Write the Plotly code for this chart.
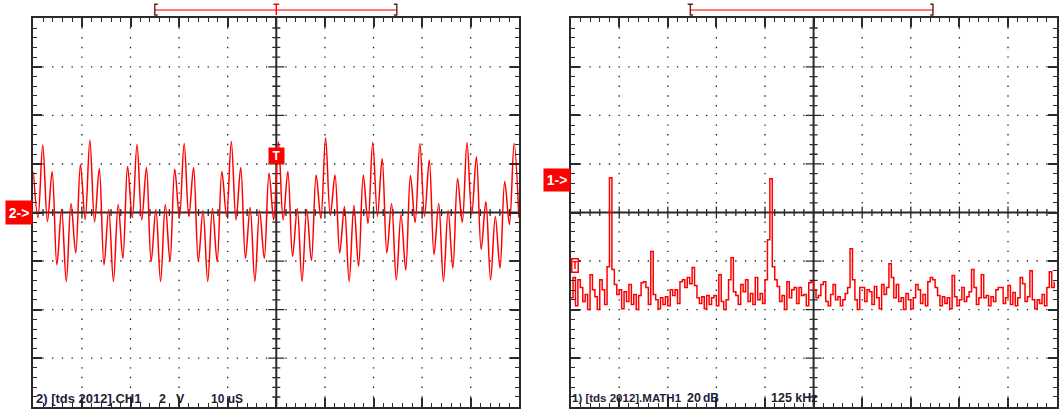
import plotly.graph_objects as go

# ------------------------------------------------------------------ data
# CH1 time trace: successive extremes of the waveform (volts), read from the screen
ch1_volts = [
    1.69, -0.21, 2.78, -0.37, 1.69, -2.16, 0.12, -2.84, 0.37, -1.67,
    1.98, -0.29, 2.98, -0.39, 1.81, -2.16, 0.12, -2.84, 0.33, -1.89,
    1.89, -0.21, 2.80, -0.31, 1.85, -2.02, 0.12, -2.84, 0.33, -2.02,
    1.79, -0.21, 2.84, -0.16, 1.85, -2.02, 0.08, -2.84, 0.16, -2.02,
    1.69, -0.16, 2.92, -0.31, 1.85, -1.89, 0.21, -2.84, 0.08, -1.89,
    1.63, -0.31, 2.91, -0.31, 1.69, -1.81, 0.16, -2.84, 0.12, -1.98,
    1.54, -0.25, 3.08, -0.12, 1.54, -1.67, 0.25, -2.84, 0.29, -2.22,
    1.54, -0.45, 2.88, -0.16, 2.22, -1.67, 0.37, -2.78, -0.08, -2.37,
    1.52, -0.41, 2.84, -0.16, 2.16, -1.73, 0.37, -2.84, 0.08, -2.30,
    1.40, -0.41, 2.88, -0.08, 2.30, -1.52, 0.45, -2.78, -0.16, -2.30,
    1.28, -0.49, 2.84, -0.21,
]
CH1_T0_US = 0.0
CH1_DT_US = 0.97

# MATH1 (FFT) spectrum in dB, one value every 6.25 kHz
math1_db = [
    -35.1, -26.8, -38.4, -27.7, -30.9, -36.7, -33.8, -40.0, -25.6, -31.8,
    -34.7, -40.0, -27.7, -31.8, -37.9, -22.3, 14.3, -23.5, -29.7, -33.8,
    -31.8, -39.6, -32.6, -36.7, -29.7, -37.9, -33.8, -40.0, -34.2, -28.9,
    -28.5, -30.9, -37.9, -16.1, -33.8, -35.9, -39.6, -35.1, -37.9, -34.7,
    -38.4, -31.8, -34.2, -31.8, -37.5, -28.5, -27.7, -30.9, -26.8, -29.3,
    -22.7, -30.1, -35.1, -37.5, -34.7, -39.6, -34.2, -37.9, -35.1, -34.2,
    -38.4, -25.6, -36.7, -40.0, -35.9, -27.7, -18.6, -32.6, -34.2, -37.9,
    -29.7, -32.6, -27.7, -36.7, -33.4, -37.9, -26.8, -35.9, -33.4, -37.5,
    -27.7, -11.2, 13.9, -22.3, -27.7, -30.5, -36.7, -34.2, -40.0, -28.5,
    -35.1, -31.8, -30.9, -37.5, -30.9, -34.2, -33.8, -38.4, -28.9, -28.5,
    -31.8, -35.1, -34.2, -29.7, -28.5, -36.7, -38.4, -33.8, -29.7, -35.9,
    -34.7, -38.4, -35.9, -33.4, -30.9, -14.9, -27.7, -35.9, -40.0, -30.9,
    -30.9, -36.7, -31.8, -32.6, -37.9, -30.5, -35.1, -39.6, -29.7, -33.8,
    -30.9, -21.1, -26.8, -35.1, -29.7, -36.7, -35.1, -40.0, -33.4, -35.9,
    -39.6, -35.1, -29.7, -31.8, -37.5, -33.8, -38.4, -28.5, -26.8, -27.7,
    -30.9, -34.2, -38.4, -34.7, -37.5, -35.1, -39.6, -26.0, -34.7, -38.4,
    -35.9, -30.9, -36.7, -34.7, -32.6, -23.5, -30.9, -37.9, -35.1, -25.6,
    -35.1, -34.2, -38.4, -34.7, -36.7, -31.8, -30.9, -30.9, -37.5, -35.1,
    -30.1, -37.9, -33.0, -38.4, -35.1, -26.8, -29.3, -36.7, -34.7, -24.0,
    -35.9, -39.6, -35.9, -37.5, -33.8, -38.4, -30.9, -24.4, -30.9, -28.5,
]
MATH1_F0_KHZ = 0.0
MATH1_DF_KHZ = 6.25

# scope settings
CH1_US_PER_DIV = 10
CH1_V_PER_DIV = 2
MATH1_KHZ_PER_DIV = 125
MATH1_DB_PER_DIV = 20
CH1_TRIGGER_LEVEL_V = 2.35
MATH1_REF_DB = 13.2
MATH1_TRIG_MARK_DB = -21.8
CH1_WINDOW_US = (25.0, 50.0, 74.8)      # record window bracket: start, trigger, end
MATH1_WINDOW_KHZ = (308.0, 932.0)

ch1_label = ["2) [tds 2012].CH1", "2", "V", "10 uS"]
ch1_label_px = [34, 157, 174, 209]
ch1_label_size = [13, 12.5, 12.5, 12]
math1_label = ["1) [tds 2012].MATH1", "20", "dB", "125 kHz"]
math1_label_px = [570, 685, 701, 769]
math1_label_size = [11.5, 12.5, 12, 12.5]

# ------------------------------------------------------------------ layout geometry
W, H = 1059, 412
NX, NY = 10, 8
PX_PER_DIV = 48.6
Y_TOP, Y_BOT = 18.3, 406.7
LEFT_X = (33.3, 519.3)
RIGHT_X = (570.6, 1056.6)
FRAME = "#2a2a2a"
DOT = "#1e1e1e"
RED = "#ff0000"


def px_x(p):
    return p / W


def px_y(p):
    return 1 - p / H


fig = go.Figure()

fig.add_trace(go.Scatter(
    y=ch1_volts, x0=CH1_T0_US, dx=CH1_DT_US, mode="lines",
    line=dict(color=RED, width=1.5, shape="spline", smoothing=1.0),
    xaxis="x", yaxis="y", hoverinfo="skip"))
fig.add_trace(go.Scatter(
    y=math1_db, x0=MATH1_F0_KHZ, dx=MATH1_DF_KHZ, mode="lines",
    line=dict(color=RED, width=1.5, shape="hv"),
    xaxis="x2", yaxis="y2", hoverinfo="skip"))


def axis(domain, div):
    return dict(
        domain=domain,
        showline=True, linewidth=2, linecolor=FRAME, mirror="ticks",
        ticks="inside", tickmode="linear", dtick=div, ticklen=9, tickwidth=1.5,
        tickcolor=FRAME, showticklabels=False, showgrid=False, zeroline=False,
        minor=dict(tickmode="linear", dtick=div / 5, ticks="inside", ticklen=4,
                   tickwidth=1, tickcolor=FRAME, showgrid=False),
        fixedrange=True,
    )


ydom = [px_y(Y_BOT), px_y(Y_TOP)]
xa = axis([px_x(LEFT_X[0]), px_x(LEFT_X[1])], CH1_US_PER_DIV)
xa.update(range=[0, NX * CH1_US_PER_DIV], tick0=0, anchor="y")
xa["minor"]["tick0"] = 0
ya = axis(ydom, CH1_V_PER_DIV)
ya.update(range=[-NY / 2 * CH1_V_PER_DIV, NY / 2 * CH1_V_PER_DIV], tick0=0, anchor="x")
ya["minor"]["tick0"] = 0
xb = axis([px_x(RIGHT_X[0]), px_x(RIGHT_X[1])], MATH1_KHZ_PER_DIV)
xb.update(range=[0, NX * MATH1_KHZ_PER_DIV], tick0=0, anchor="y2")
xb["minor"]["tick0"] = 0
yb = axis(ydom, MATH1_DB_PER_DIV)
yb.update(range=[-NY / 2 * MATH1_DB_PER_DIV, NY / 2 * MATH1_DB_PER_DIV], tick0=0, anchor="x2")
yb["minor"]["tick0"] = 0

shapes = []
annotations = []


def graticule(xr, yr, xdiv, ydiv):
    ux = xdiv / PX_PER_DIV     # data units per pixel
    uy = ydiv / PX_PER_DIV
    xmid = NX / 2 * xdiv
    ytop = NY / 2 * ydiv
    # centre cross lines
    shapes.append(dict(type="line", xref=xr, yref=yr, x0=0, x1=NX * xdiv, y0=0, y1=0,
                       line=dict(color=FRAME, width=2), layer="below"))
    shapes.append(dict(type="line", xref=xr, yref=yr, x0=xmid, x1=xmid, y0=-ytop, y1=ytop,
                       line=dict(color=FRAME, width=2), layer="below"))
    # centre ticks
    p = []
    for j in range(1, NX * 5):
        x = j * xdiv / 5
        h = (6 if j % 5 == 0 else 3.5) * uy
        p.append(f"M{x:.4f},{-h:.4f}L{x:.4f},{h:.4f}")
    for j in range(1, NY * 5):
        y = j * ydiv / 5 - ytop
        h = (8 if j % 5 == 0 else 4) * ux
        p.append(f"M{xmid - h:.4f},{y:.4f}L{xmid + h:.4f},{y:.4f}")
    shapes.append(dict(type="path", xref=xr, yref=yr, path="".join(p),
                       line=dict(color=FRAME, width=1.3), layer="below"))
    # dotted grid
    d = []
    e = 0.65 * ux
    for i in range(1, NX):
        if i == NX // 2:
            continue
        x = i * xdiv
        for j in range(1, NY * 5):
            y = j * ydiv / 5 - ytop
            d.append(f"M{x - e:.4f},{y:.4f}L{x + e:.4f},{y:.4f}")
    for i in range(1, NY):
        if i == NY // 2:
            continue
        y = i * ydiv - ytop
        for j in range(1, NX * 5):
            x = j * xdiv / 5
            d.append(f"M{x - e:.4f},{y:.4f}L{x + e:.4f},{y:.4f}")
    shapes.append(dict(type="path", xref=xr, yref=yr, path="".join(d),
                       line=dict(color=DOT, width=1.4), layer="below"))


graticule("x", "y", CH1_US_PER_DIV, CH1_V_PER_DIV)
graticule("x2", "y2", MATH1_KHZ_PER_DIV, MATH1_DB_PER_DIV)

# ---- record-window brackets at the top
BAR_Y = px_y(10)
BT, BB = px_y(4.3), px_y(15)
s0, trig, s1 = CH1_WINDOW_US
shapes += [
    dict(type="line", xref="x", yref="paper", x0=s0, x1=s1, y0=BAR_Y, y1=BAR_Y,
         line=dict(color="#ff4a4a", width=1.6)),
    dict(type="path", xref="x", yref="paper",
         path=f"M{s0 + 0.6},{BT} L{s0},{BT} L{s0},{BB} L{s0 + 0.6},{BB}",
         line=dict(color="#602020", width=1.4)),
    dict(type="path", xref="x", yref="paper",
         path=f"M{s1 - 0.6},{BT} L{s1},{BT} L{s1},{BB} L{s1 - 0.6},{BB}",
         line=dict(color="#602020", width=1.4)),
    dict(type="path", xref="x", yref="paper",
         path=f"M{trig - 0.6},{BT} L{trig + 0.6},{BT} M{trig},{BT} L{trig},{BB}",
         line=dict(color=RED, width=1.4)),
]
r0, r1 = MATH1_WINDOW_KHZ
shapes += [
    dict(type="line", xref="x2", yref="paper", x0=r0, x1=r1, y0=BAR_Y, y1=BAR_Y,
         line=dict(color="#ff4a4a", width=1.6)),
    dict(type="path", xref="x2", yref="paper",
         path=f"M{r0 - 7},{BT} L{r0 + 7},{BT} M{r0},{BT} L{r0},{BB} L{r0 + 7},{BB}",
         line=dict(color="#602020", width=1.4)),
    dict(type="path", xref="x2", yref="paper",
         path=f"M{r1 - 7},{BT} L{r1},{BT} L{r1},{BB} L{r1 - 7},{BB}",
         line=dict(color="#602020", width=1.4)),
]

# ---- channel markers
LBL_FONT = dict(family="Liberation Sans, Arial, sans-serif", size=14, color="white", weight="bold")
annotations.append(dict(text="2-&gt;", xref="paper", yref="y", x=px_x(LEFT_X[0]), y=0,
                        xanchor="right", yanchor="middle", showarrow=False,
                        bgcolor=RED, font=LBL_FONT, borderpad=2, width=22, height=19))
annotations.append(dict(text="1-&gt;", xref="paper", yref="y2", x=px_x(RIGHT_X[0]), y=MATH1_REF_DB,
                        xanchor="right", yanchor="middle", showarrow=False,
                        bgcolor=RED, font=LBL_FONT, borderpad=2, width=22, height=18))
annotations.append(dict(text="T", xref="x", yref="y", x=NX / 2 * CH1_US_PER_DIV, y=CH1_TRIGGER_LEVEL_V,
                        xanchor="center", yanchor="middle", showarrow=False,
                        bgcolor=RED, font=dict(family="Liberation Sans, Arial", size=12,
                                               color="white", weight="bold"),
                        borderpad=1, width=13, height=13))
annotations.append(dict(text="T", xref="paper", yref="y2", x=px_x(RIGHT_X[0] + 0.5), y=MATH1_TRIG_MARK_DB,
                        xanchor="left", yanchor="middle", showarrow=False,
                        bgcolor="white", bordercolor=RED, borderwidth=1.5,
                        font=dict(family="Liberation Sans, Arial", size=10, color=RED, weight="bold"),
                        borderpad=0, width=5, height=12))

# ---- bottom readouts
TXT_FONT = dict(family="Liberation Sans, Arial, sans-serif", color="#1e1e36", weight="bold")
for txt, p, s in zip(ch1_label, ch1_label_px, ch1_label_size):
    annotations.append(dict(text=txt, xref="paper", yref="paper", x=px_x(p), y=px_y(398.5),
                            xanchor="left", yanchor="middle", showarrow=False,
                            font=dict(TXT_FONT, size=s)))
for txt, p, s in zip(math1_label, math1_label_px, math1_label_size):
    annotations.append(dict(text=txt, xref="paper", yref="paper", x=px_x(p), y=px_y(397.5),
                            xanchor="left", yanchor="middle", showarrow=False,
                            font=dict(TXT_FONT, size=s)))

fig.update_layout(
    width=W, height=H, margin=dict(l=0, r=0, t=0, b=0),
    paper_bgcolor="white", plot_bgcolor="white", showlegend=False,
    xaxis=xa, yaxis=ya, xaxis2=xb, yaxis2=yb,
    shapes=shapes, annotations=annotations,
)

fig.write_html("out.html", config={"displayModeBar": False},
               post_script="document.body.style.margin='0px';")
